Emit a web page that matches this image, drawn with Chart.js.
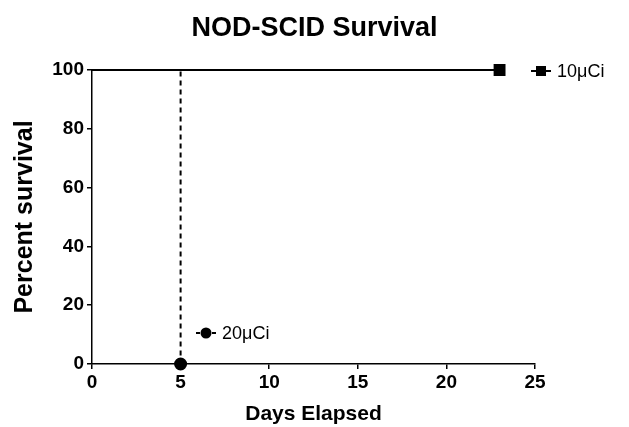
<!DOCTYPE html>
<html>
<head>
<meta charset="utf-8">
<script src="https://cdn.jsdelivr.net/npm/chart.js@4"></script>
<style>
  html, body { margin: 0; padding: 0; background: #fff; }
  #wrap { width: 629px; height: 427px; }
</style>
</head>
<body>
<div id="wrap"><canvas id="survival"></canvas></div>
<script>
// NOD-SCID survival (Kaplan-Meier style)

const days10 = [0, 23];
const surv10 = [100, 100];
const days20 = [0, 5];
const surv20 = [100, 0];
const xTicks = [0, 5, 10, 15, 20, 25];
const yTicks = [0, 20, 40, 60, 80, 100];
const seriesNames = ['10\u03bcCi', '20\u03bcCi'];

Chart.defaults.font.family = '"Liberation Sans", Arial, sans-serif';
Chart.defaults.color = '#000';

const toPts = (xs, ys) => xs.map((x, i) => ({ x: x, y: ys[i] }));

// legend drawn beside the data like the original figure
const sideLegend = {
  id: 'sideLegend',
  afterDatasetsDraw(chart, args, opts) {
    const ctx = chart.ctx;
    ctx.save();
    opts.items.forEach(it => {
      ctx.strokeStyle = '#000';
      ctx.fillStyle = '#000';
      ctx.lineWidth = 2;
      ctx.setLineDash(it.dash || []);
      ctx.beginPath();
      ctx.moveTo(it.x - 10, it.y);
      ctx.lineTo(it.x + 10, it.y);
      ctx.stroke();
      ctx.setLineDash([]);
      ctx.beginPath();
      if (it.shape === 'rect') ctx.rect(it.x - 5, it.y - 5, 10, 10);
      else ctx.arc(it.x, it.y, 5.5, 0, Math.PI * 2);
      ctx.fill();
      ctx.font = '18px "Liberation Sans", Arial, sans-serif';
      ctx.textAlign = 'left';
      ctx.textBaseline = 'middle';
      ctx.fillText(it.text, it.x + 16, it.y + 1);
    });
    ctx.restore();
  }
};

new Chart(document.getElementById('survival'), {
  type: 'line',
  data: {
    datasets: [
      { label: seriesNames[0], data: toPts(days10, surv10), stepped: 'before', borderColor: '#000', backgroundColor: '#000',
        borderWidth: 2, pointStyle: 'rect', pointRadius: [0, 7], clip: false },
      { label: seriesNames[1], data: toPts(days20, surv20), stepped: 'before', borderColor: '#000', backgroundColor: '#000',
        borderWidth: 2, borderDash: [5, 4], pointStyle: 'circle', pointRadius: [0, 5.5], clip: false }
    ]
  },
  options: {
    responsive: true,
    maintainAspectRatio: false,
    animation: false,
    layout: { padding: 0 },
    plugins: {
      legend: { display: false },
      tooltip: { enabled: false },
      title: { display: true, text: 'NOD-SCID Survival', font: { size: 27, weight: 'bold', lineHeight: 1.2 }, color: '#000', padding: { top: 12, bottom: 25.6 } },
      sideLegend: {
        items: [
          { text: seriesNames[0], x: 541, y: 71, shape: 'rect' },
          { text: seriesNames[1], x: 206, y: 333, shape: 'circle', dash: [4, 4] }
        ]
      }
    },
    scales: {
      x: {
        type: 'linear', min: 0, max: 25,
        afterBuildTicks: s => { s.ticks = xTicks.map(v => ({ value: v })); },
        afterFit: s => { s.height = 63; },
        grid: { drawOnChartArea: false, drawTicks: true, tickLength: 5, color: '#000', lineWidth: 1.5 },
        border: { display: true, color: '#000', width: 1.5 },
        ticks: { font: { size: 19, weight: 'bold' }, color: '#000', padding: 2, maxRotation: 0 },
        title: { display: true, text: 'Days Elapsed', font: { size: 21, weight: 'bold' }, color: '#000', padding: { top: 4, bottom: 0 } }
      },
      y: {
        min: 0, max: 100,
        afterBuildTicks: s => { s.ticks = yTicks.map(v => ({ value: v })); },
        afterFit: s => { s.width = 92; },
        grid: { drawOnChartArea: false, drawTicks: true, tickLength: 5, color: '#000', lineWidth: 1.5 },
        border: { display: true, color: '#000', width: 1.5 },
        ticks: { font: { size: 19, weight: 'bold' }, color: '#000', padding: 3 },
        title: { display: true, text: 'Percent survival', font: { size: 25, weight: 'bold' }, color: '#000', padding: { top: 10, bottom: 0 } }
      },
      // empty right-hand box keeps room for the side legend
      yRight: {
        position: 'right', min: 0, max: 100,
        afterFit: s => { s.width = 94; },
        grid: { display: false },
        border: { display: false },
        ticks: { display: false }
      }
    }
  },
  plugins: [sideLegend]
});
</script>
</body>
</html>
